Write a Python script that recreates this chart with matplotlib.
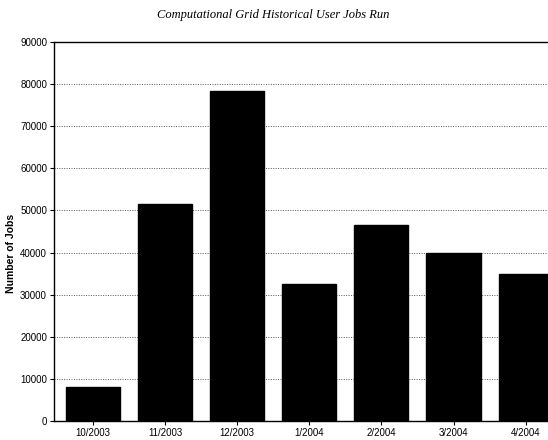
import matplotlib
matplotlib.use("Agg")
import matplotlib.pyplot as plt
import numpy as np

# ── Data ──────────────────────────────────────────────────────────────────────
months = ["10/2003", "11/2003", "12/2003", "1/2004", "2/2004", "3/2004", "4/2004"]
jobs   = [8000, 51500, 78400, 32500, 46500, 39800, 34800]
yticks = [0, 10000, 20000, 30000, 40000, 50000, 60000, 70000, 80000, 90000]

plt.rcParams["font.family"] = ["Liberation Sans Narrow", "Liberation Sans", "DejaVu Sans"]

fig = plt.figure(figsize=(5.48, 4.4), dpi=100)
ax = fig.add_axes([54 / 548, 19 / 440, 494 / 548, 379 / 440])

x = np.arange(len(months))
ax.bar(x, jobs, width=0.75, color="black", edgecolor="black", zorder=3)

ax.set_xlim(-0.54, 6.31)
ax.set_ylim(0, 90000)
ax.set_xticks(x)
ax.set_xticklabels(months, fontsize=7)
ax.set_yticks(yticks)
ax.set_yticklabels([str(v) for v in yticks], fontsize=7)
ax.tick_params(axis="both", length=3, width=0.8, color="black", pad=2)

ax.yaxis.grid(True, ls=(0, (1, 1.5)), color="#555555", lw=0.7, zorder=0)
for s in ("left", "bottom", "top"):
    ax.spines[s].set_color("black")
    ax.spines[s].set_linewidth(1.0)
ax.spines["right"].set_visible(False)

ax.set_ylabel("Number of Jobs", fontsize=7.5, fontweight="bold",
              family=["Liberation Sans", "DejaVu Sans"])
ax.yaxis.set_label_coords(-0.077, 0.443)

fig.text(0.498, 0.965, "Computational Grid Historical User Jobs Run",
         ha="center", va="center", fontsize=9, style="italic",
         family=["Liberation Serif", "DejaVu Serif"])

fig.savefig("out.png", dpi=100)
